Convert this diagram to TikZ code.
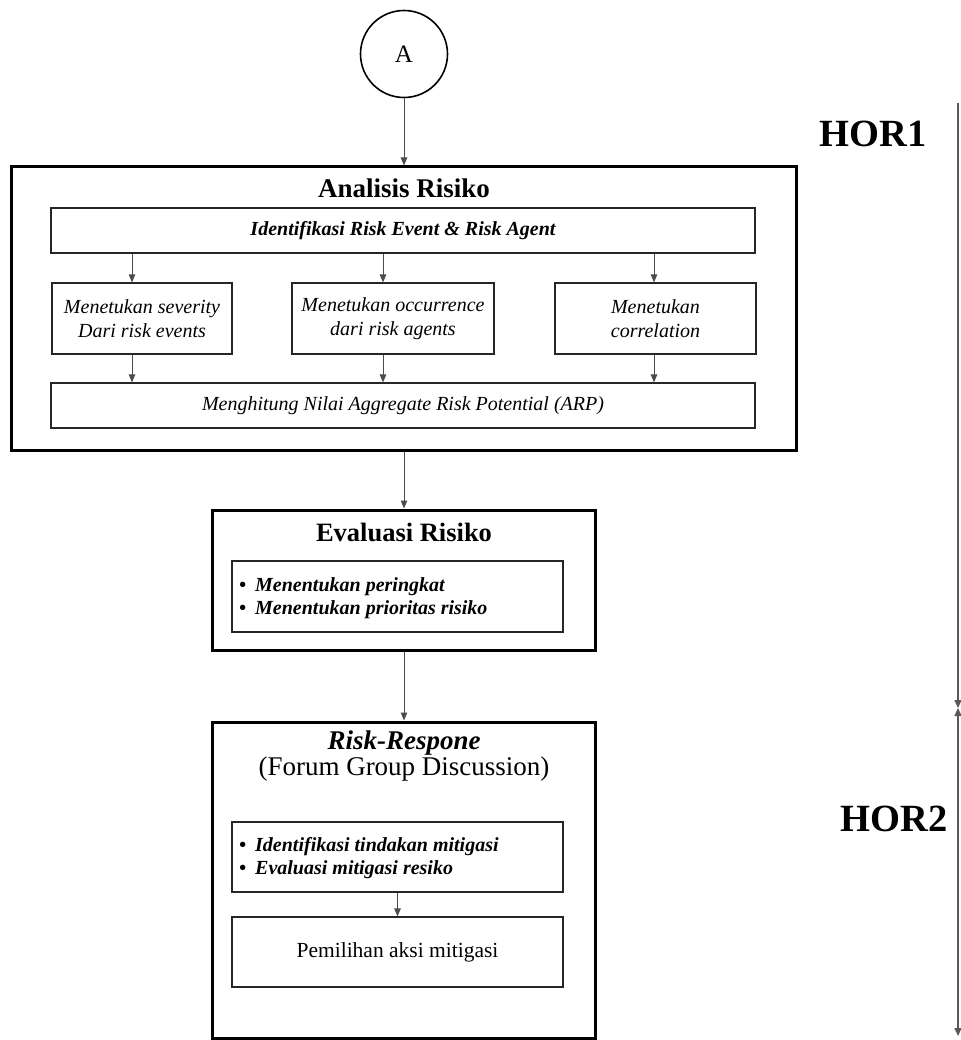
\documentclass[tikz,border=0pt]{standalone}
\usepackage{fontspec}
\setmainfont{Liberation Serif}
\usetikzlibrary{arrows.meta}

\newcommand{\fs}[1]{\fontsize{#1pt}{\dimexpr #1pt*6/5\relax}\selectfont}

\begin{document}
\begin{tikzpicture}[x=1pt,y=-1pt,
  frame/.style={draw=black, rectangle, inner sep=0pt, line width=3pt},
  inbox/.style={draw=black!85, rectangle, inner sep=0pt, line width=1.2pt, align=center},
  arr/.style={draw=black!70, line width=1pt, -{Triangle[length=8pt,width=6.5pt]}},
  span/.style={draw=black!65, line width=1.5pt},
  label/.style={inner sep=0pt, align=center},
]
\useasboundingbox (0,0) rectangle (960,1040);

% start connector
\node[draw, circle, line width=1.6pt, minimum size=87pt, inner sep=0pt, font=\fs{25}] (A) at (404,54) {A};

% --- Analisis Risiko ---
\node[frame, minimum width=785pt, minimum height=283pt] (ana) at (403.5,308.5) {};
\node[label, font=\bfseries\fs{27}] (anaT) at (404,188) {Analisis Risiko};
\node[inbox, minimum width=704pt, minimum height=45pt, font=\bfseries\itshape\fs{20}] (ident) at (403,230.5) {Identifikasi Risk Event \& Risk Agent};
\node[inbox, minimum width=180pt, minimum height=71pt, font=\itshape\fs{20}] (sev) at (142,318.5) {Menetukan severity\\Dari risk events};
\node[inbox, minimum width=202pt, minimum height=71pt, font=\itshape\fs{20}] (occ) at (393,318.5) {Menetukan occurrence\\dari risk agents};
\node[inbox, minimum width=201pt, minimum height=71pt, font=\itshape\fs{20}] (cor) at (655.5,318.5) {Menetukan\\correlation};
\node[inbox, minimum width=704pt, minimum height=45pt, font=\itshape\fs{20}] (arp) at (403,405.5) {Menghitung Nilai Aggregate Risk Potential (ARP)};

% --- Evaluasi Risiko ---
\node[frame, minimum width=383pt, minimum height=140pt] (eva) at (403.5,580) {};
\node[label, font=\bfseries\fs{26.5}] (evaT) at (404,532) {Evaluasi Risiko};
\node[inbox, minimum width=331pt, minimum height=71pt] (evaL) at (397.5,596.5) {};
\node[label, anchor=west, align=left, font=\bfseries\itshape\fs{20}] (evaItems) at (239,598.5)
  {\textbullet\hspace{9pt}Menentukan peringkat\\[-1pt]\textbullet\hspace{9pt}Menentukan prioritas risiko};

% --- Risk-Respone ---
\node[frame, minimum width=383pt, minimum height=316pt] (risk) at (403.5,880) {};
\node[label, font=\bfseries\itshape\fs{27}] (riskT) at (404,743) {Risk-Respone};
\node[label, font=\fs{27}] (fgd) at (404,769) {(Forum Group Discussion)};
\node[inbox, minimum width=331pt, minimum height=70pt] (mitL) at (397.5,857) {};
\node[label, anchor=west, align=left, font=\bfseries\itshape\fs{20}] (mitItems) at (239,858)
  {\textbullet\hspace{9pt}Identifikasi tindakan mitigasi\\[-1pt]\textbullet\hspace{9pt}Evaluasi mitigasi resiko};
\node[inbox, minimum width=331pt, minimum height=70pt, font=\fs{21.5}] (pilih) at (397.5,952) {Pemilihan aksi mitigasi};

% --- HOR labels and span lines ---
\node[label, font=\bfseries\fs{38.5}] (hor1) at (873,134) {HOR1};
\node[label, font=\bfseries\fs{38.5}] (hor2) at (894,819) {HOR2};
\coordinate (s1) at (958,103);
\coordinate (s2) at (958,708);
\coordinate (s3) at (958,1036);
\draw[span, -{Triangle[length=8pt,width=7pt]}] (s1) -- (s2);
\draw[span, {Triangle[length=8pt,width=7pt]}-{Triangle[length=8pt,width=7pt]}] (s2) -- (s3);

% --- connectors ---
\draw[arr] (A.south) -- (ana.north -| A.south);
\draw[arr] ([xshift=-10pt]sev.north |- ident.south) -- ([xshift=-10pt]sev.north);
\draw[arr] ([xshift=-10pt]occ.north |- ident.south) -- ([xshift=-10pt]occ.north);
\draw[arr] ([xshift=-1.5pt]cor.north |- ident.south) -- ([xshift=-1.5pt]cor.north);
\draw[arr] ([xshift=-10pt]sev.south) -- ([xshift=-10pt]sev.south |- arp.north);
\draw[arr] ([xshift=-10pt]occ.south) -- ([xshift=-10pt]occ.south |- arp.north);
\draw[arr] ([xshift=-1.5pt]cor.south) -- ([xshift=-1.5pt]cor.south |- arp.north);
\draw[arr] (ana.south -| A.south) -- (eva.north -| A.south);
\draw[arr] (eva.south -| A.south) -- (risk.north -| A.south);
\draw[arr] (mitL.south) -- (pilih.north);
\end{tikzpicture}
\end{document}
